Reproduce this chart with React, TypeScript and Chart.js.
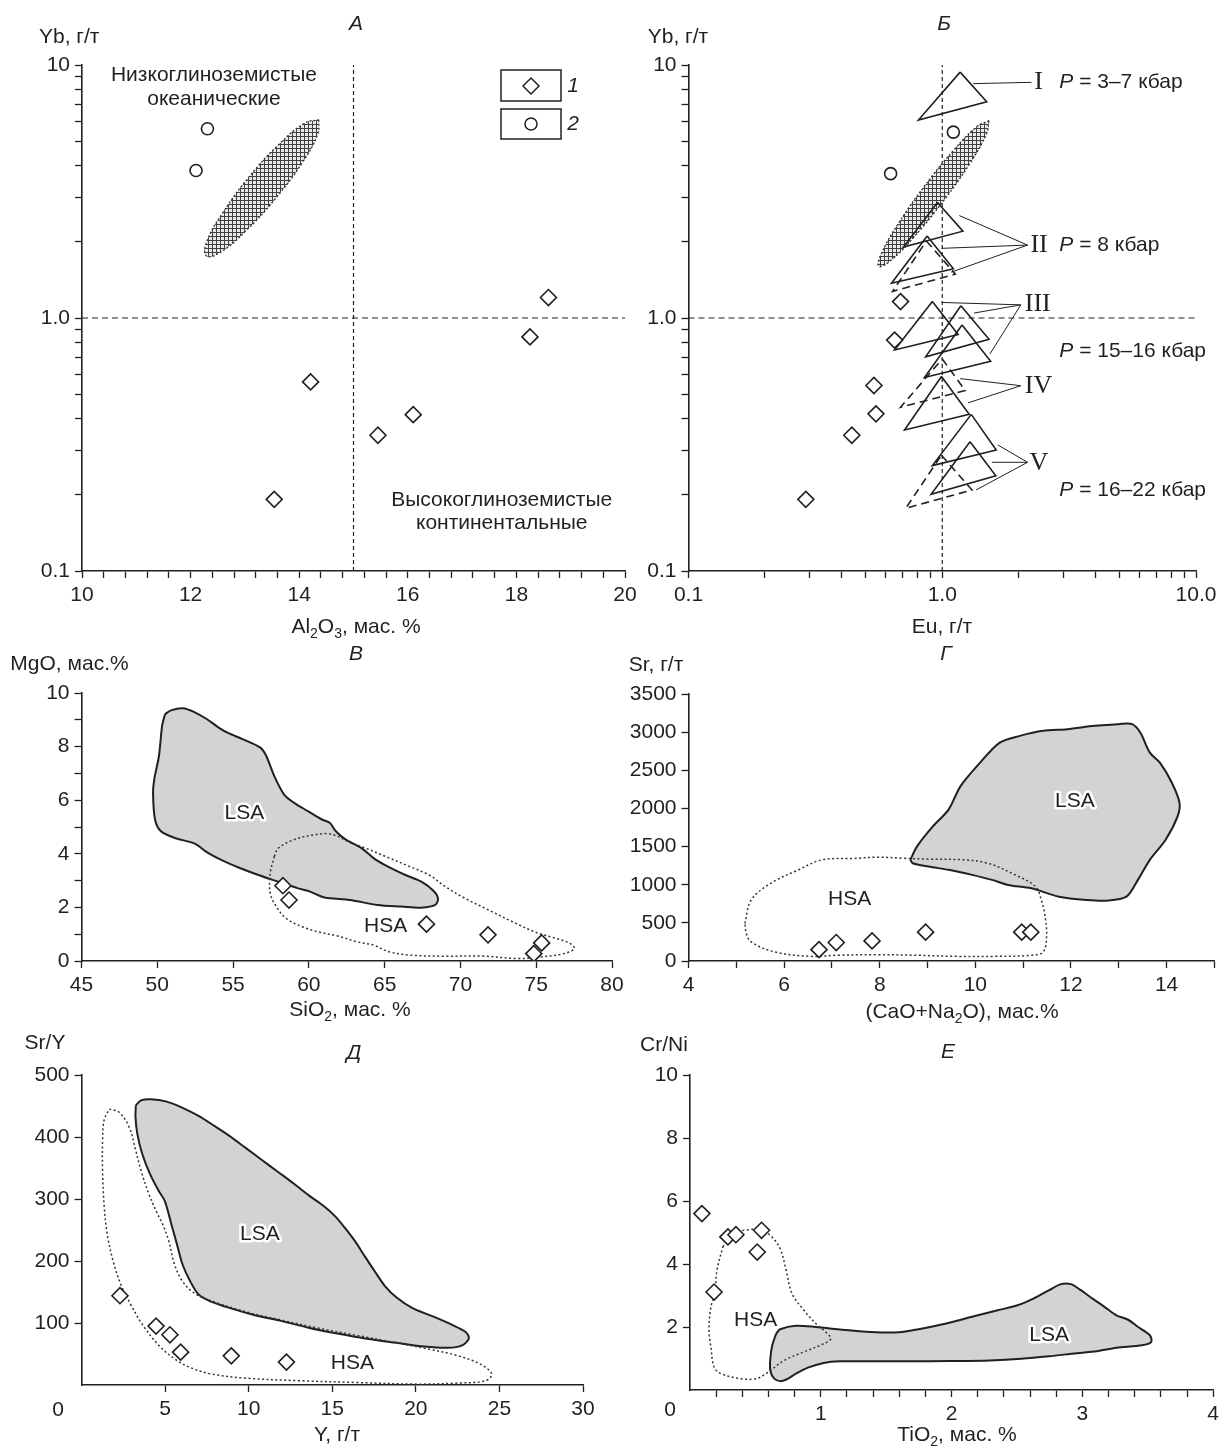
import React, { useEffect, useRef } from "react";
import { Chart, registerables } from "chart.js";

Chart.register(...registerables);

const PAGE_W = 1224;
const PAGE_H = 1449;
const SANS = '"Liberation Sans", Arial, Helvetica, sans-serif';
const SERIF = '"Liberation Serif", "Times New Roman", serif';
const INK = "#231f20";
const LSA_FILL = "#d1d3d4";
const Y_AXIS_W = 70;
const X_AXIS_H = 45;

type P = [number, number];

// ---------------- Panel А : Al2O3 vs Yb ----------------
const A_SAMPLES_1: P[] = [[13.54, 0.192], [14.21, 0.559], [15.45, 0.344], [16.1, 0.415], [18.25, 0.842], [18.59, 1.205]];
const A_SAMPLES_2: P[] = [[12.31, 5.6], [12.1, 3.83]];
const A_OCEANIC_FIELD: P[] = [[14.36, 6.08], [14.34, 5.32], [14.05, 4.09], [13.56, 2.96], [13.01, 2.2], [12.55, 1.82], [12.29, 1.76], [12.3, 2.01], [12.6, 2.62], [13.08, 3.62], [13.63, 4.86], [14.1, 5.89]];
const A_X_RANGE: P = [10, 20];
const A_AL_DIVIDE = 15;
const YB_DIVIDE = 1;
const LOG_RANGE: P = [0.1, 10];
const A_X_TICKS = [10, 10.4, 10.8, 11.2, 11.6, 12, 12.4, 12.8, 13.2, 13.6, 14, 14.4, 14.8, 15.2, 15.6, 16, 16.4, 16.8, 17.2, 17.6, 18, 18.4, 18.8, 19.2, 19.6, 20];
const A_X_LABELS = [10, 12, 14, 16, 18, 20];
const LOG_TICKS = [0.1, 0.2, 0.3, 0.4, 0.5, 0.6, 0.7, 0.8, 0.9, 1, 2, 3, 4, 5, 6, 7, 8, 9, 10];
const YB_LABELS: [number, string][] = [[0.1, "0.1"], [1, "1.0"], [10, "10"]];

// ---------------- Panel Б : Eu vs Yb ----------------
const B_SAMPLES_1: P[] = [[0.685, 1.161], [0.649, 0.818], [0.538, 0.541], [0.548, 0.418], [0.44, 0.344], [0.29, 0.192]];
const B_SAMPLES_2: P[] = [[1.106, 5.43], [0.626, 3.72]];
const B_OCEANIC_FIELD: P[] = [[1.529, 6.03], [1.492, 5.33], [1.282, 4.07], [1.01, 2.9], [0.777, 2.1], [0.628, 1.69], [0.562, 1.6], [0.576, 1.8], [0.671, 2.36], [0.851, 3.32], [1.106, 4.59], [1.37, 5.71]];
const EU_DIVIDE = 1;
const EU_LABELS: [number, string][] = [[0.1, "0.1"], [1, "1.0"], [10, "10.0"]];
const B_TRIANGLES_SOLID: P[][] = [
  [[1.176, 9.37], [1.497, 7.16], [0.806, 6.06]],
  [[0.958, 2.862], [1.206, 2.204], [0.703, 1.906]],
  [[0.872, 2.108], [1.106, 1.564], [0.631, 1.373]],
  [[0.914, 1.161], [1.155, 0.861], [0.649, 0.748]],
  [[1.184, 1.118], [1.529, 0.824], [0.86, 0.702]],
  [[1.197, 0.939], [1.551, 0.674], [0.851, 0.582]],
  [[0.993, 0.587], [1.277, 0.416], [0.71, 0.361]],
  [[1.301, 0.416], [1.632, 0.301], [0.914, 0.261]],
  [[1.287, 0.324], [1.626, 0.238], [0.904, 0.201]],
];
const B_TRIANGLES_DASHED: P[][] = [
  [[0.866, 2.016], [1.126, 1.49], [0.637, 1.274]],
  [[1.0, 0.689], [1.232, 0.517], [0.685, 0.444]],
  [[0.993, 0.287], [1.31, 0.209], [0.718, 0.177]],
];
const B_LEADERS: P[][] = [
  [[1.324, 8.44], [2.248, 8.54]],
  [[2.169, 1.942], [1.167, 2.541]],
  [[2.169, 1.942], [0.993, 1.885]],
  [[2.169, 1.942], [1.086, 1.518]],
  [[2.04, 1.127], [0.993, 1.152]],
  [[2.04, 1.127], [1.334, 1.046]],
  [[2.04, 1.127], [1.54, 0.72]],
  [[2.04, 0.54], [1.176, 0.576]],
  [[2.04, 0.54], [1.264, 0.462]],
  [[2.169, 0.269], [1.655, 0.315]],
  [[2.169, 0.269], [1.569, 0.269]],
  [[2.169, 0.269], [1.358, 0.209]],
];
const B_GROUPS = ["I", "II", "III", "IV", "V"];
const B_GROUP_POS: P[] = [[2.306, 8.54], [2.225, 1.942], [2.115, 1.139], [2.115, 0.54], [2.208, 0.266]];
const B_PRESSURES = [" = 3–7 кбар", " = 8 кбар", " = 15–16 кбар", " = 16–22 кбар"];
const B_PRESSURE_POS: P[] = [[2.893, 8.54], [2.893, 1.942], [2.893, 0.737], [2.893, 0.209]];

// ---------------- Panel В : SiO2 vs MgO ----------------
const C_SAMPLES: P[] = [[58.29, 2.81], [58.69, 2.275], [67.76, 1.375], [71.82, 0.975], [75.36, 0.675], [74.84, 0.275]];
const C_LSA: P[] = [[50.51, 9.21], [50.9, 9.35], [51.69, 9.43], [52.47, 9.28], [53.26, 9.03], [54.05, 8.71], [54.7, 8.5], [55.62, 8.28], [56.8, 7.96], [57.19, 7.65], [57.72, 6.9], [58.37, 6.21], [59.03, 5.9], [59.94, 5.59], [60.86, 5.28], [61.39, 5.15], [61.78, 4.84], [62.44, 4.53], [63.48, 4.21], [64.27, 3.84], [65.19, 3.53], [66.37, 3.21], [67.42, 2.96], [68.2, 2.63], [68.52, 2.34], [68.34, 2.09], [67.42, 1.99], [66.11, 2.03], [64.53, 2.09], [62.7, 2.28], [61.39, 2.34], [60.86, 2.4], [60.08, 2.59], [59.29, 2.71], [57.98, 2.96], [56.67, 3.21], [55.36, 3.49], [54.18, 3.78], [53.26, 4.06], [52.47, 4.38], [51.16, 4.59], [50.24, 4.84], [49.85, 5.28], [49.72, 6.28], [49.8, 6.78], [50.11, 7.65], [50.32, 8.78]];
const C_HSA: P[] = [[57.72, 3.9], [57.98, 4.21], [59.03, 4.53], [60.34, 4.71], [61.26, 4.75], [61.91, 4.65], [62.7, 4.43], [63.75, 4.21], [65.06, 3.9], [66.63, 3.53], [67.94, 3.21], [68.99, 2.78], [70.3, 2.34], [71.87, 1.9], [73.45, 1.46], [75.02, 1.06], [76.33, 0.84], [77.25, 0.65], [77.51, 0.46], [76.86, 0.28], [75.28, 0.15], [73.71, 0.09], [71.61, 0.18], [68.99, 0.18], [66.89, 0.21], [65.32, 0.34], [64.27, 0.59], [63.22, 0.71], [61.91, 0.93], [60.6, 1.09], [59.55, 1.28], [58.5, 1.59], [57.85, 2.03], [57.45, 2.53], [57.45, 3.28]];
const C_X_TICKS = [45, 50, 55, 60, 65, 70, 75, 80];
const C_Y_TICKS = [0, 1, 2, 3, 4, 5, 6, 7, 8, 9, 10];
const C_Y_LABELS = [0, 2, 4, 6, 8, 10];

// ---------------- Panel Г : CaO+Na2O vs Sr ----------------
const D_SAMPLES: P[] = [[6.73, 149], [7.09, 242], [7.84, 263], [8.96, 378], [10.97, 378], [11.16, 378]];
const D_LSA: P[] = [[8.64, 1326], [8.78, 1502], [9.11, 1765], [9.44, 1985], [9.69, 2292], [10.1, 2600], [10.51, 2863], [10.93, 2951], [11.42, 3017], [11.92, 3039], [12.5, 3083], [12.99, 3105], [13.28, 3105], [13.45, 2995], [13.65, 2732], [13.86, 2600], [14.11, 2336], [14.27, 2073], [14.23, 1897], [13.98, 1590], [13.65, 1326], [13.4, 1063], [13.16, 843], [12.74, 791], [12.33, 799], [11.75, 843], [11.17, 953], [10.68, 997], [10.35, 1063], [9.93, 1129], [9.44, 1195], [9.02, 1238], [8.69, 1282]];
const D_HSA: P[] = [[5.18, 492], [5.31, 799], [5.72, 1019], [6.3, 1195], [6.79, 1326], [7.45, 1344], [7.95, 1361], [8.45, 1348], [9.02, 1335], [9.77, 1326], [10.26, 1282], [10.76, 1151], [11.26, 975], [11.38, 799], [11.46, 580], [11.49, 316], [11.42, 119], [11.17, 75], [10.43, 61], [9.6, 61], [8.78, 75], [7.95, 83], [7.12, 75], [6.55, 61], [5.8, 119], [5.31, 250], [5.21, 360]];
const D_X_TICKS = [4, 5, 6, 7, 8, 9, 10, 11, 12, 13, 14, 15];
const D_X_LABELS = [4, 6, 8, 10, 12, 14];
const D_Y_TICKS = [0, 500, 1000, 1500, 2000, 2500, 3000, 3500];

// ---------------- Panel Д : Y vs Sr/Y ----------------
const E_SAMPLES: P[] = [[2.3, 144], [4.46, 95], [5.29, 81], [5.93, 53], [8.96, 47], [12.26, 37]];
const E_LSA: P[] = [[3.25, 451], [3.56, 459], [4.15, 461], [5.1, 457], [6.05, 447], [7.0, 434], [7.94, 418], [8.89, 401], [9.84, 382], [10.79, 363], [11.74, 344], [12.69, 325], [13.64, 305], [14.47, 289], [15.18, 272], [15.77, 253], [16.36, 232], [16.96, 207], [17.55, 183], [18.14, 160], [18.85, 141], [19.8, 124], [20.99, 111], [22.17, 97], [23.0, 85], [23.17, 75], [22.77, 64], [21.93, 60], [20.51, 62], [18.85, 68], [16.96, 75], [15.3, 83], [13.64, 92], [11.98, 103], [10.32, 113], [8.89, 124], [7.71, 135], [7.0, 146], [6.47, 169], [6.05, 194], [5.72, 226], [5.38, 259], [4.98, 297], [4.62, 313], [4.1, 340], [3.63, 373], [3.34, 405], [3.23, 432]];
const E_HSA: P[] = [[1.66, 445], [2.25, 440], [2.85, 416], [3.2, 383], [3.56, 346], [4.03, 308], [4.51, 278], [4.86, 259], [5.22, 232], [5.57, 194], [6.05, 167], [6.76, 148], [7.94, 134], [9.84, 118], [11.74, 106], [14.11, 92], [16.48, 80], [18.85, 68], [20.75, 58], [22.41, 48], [23.83, 34], [24.54, 18], [24.19, 7], [22.41, 3], [20.04, 1.4], [16.48, 4], [12.92, 7], [9.84, 11], [7.71, 18], [6.52, 28], [5.57, 42], [4.62, 64], [3.68, 96], [2.96, 129], [2.37, 161], [1.9, 199], [1.54, 243], [1.35, 291], [1.26, 346], [1.26, 394], [1.35, 427]];
const E_X_TICKS = [5, 10, 15, 20, 25, 30];
const E_Y_TICKS = [100, 200, 300, 400, 500];

// ---------------- Panel Е : TiO2 vs Cr/Ni ----------------
const F_SAMPLES: P[] = [[0.091, 5.6], [0.184, 3.11], [0.29, 4.86], [0.351, 4.93], [0.547, 5.07], [0.514, 4.38]];
const F_HSA: P[] = [[0.251, 4.54], [0.327, 4.97], [0.448, 5.09], [0.538, 5.09], [0.614, 4.91], [0.689, 4.49], [0.735, 3.8], [0.78, 3.06], [0.871, 2.53], [0.962, 2.11], [1.037, 1.84], [1.077, 1.63], [1.022, 1.47], [0.871, 1.21], [0.72, 0.94], [0.599, 0.57], [0.508, 0.36], [0.387, 0.36], [0.236, 0.52], [0.184, 0.73], [0.16, 1.36], [0.145, 1.89], [0.16, 2.64], [0.19, 3.06], [0.206, 3.8]];
const F_LSA: P[] = [[0.659, 1.79], [0.689, 1.93], [0.81, 2.04], [0.962, 2.0], [1.143, 1.92], [1.385, 1.84], [1.597, 1.83], [1.748, 1.93], [1.959, 2.11], [2.171, 2.34], [2.353, 2.53], [2.504, 2.69], [2.625, 2.9], [2.746, 3.17], [2.836, 3.36], [2.912, 3.36], [2.988, 3.17], [3.078, 2.9], [3.169, 2.64], [3.26, 2.37], [3.35, 2.23], [3.426, 2.0], [3.517, 1.73], [3.526, 1.52], [3.456, 1.42], [3.26, 1.34], [3.109, 1.23], [2.957, 1.17], [2.746, 1.07], [2.534, 0.99], [2.292, 0.94], [1.99, 0.92], [1.687, 0.91], [1.385, 0.91], [1.143, 0.91], [1.022, 0.86], [0.901, 0.71], [0.81, 0.52], [0.75, 0.36], [0.695, 0.28], [0.644, 0.36], [0.614, 0.62], [0.614, 0.99], [0.629, 1.42]];
const F_X_TICKS = [0.2, 0.4, 0.6, 0.8, 1, 1.2, 1.4, 1.6, 1.8, 2, 2.2, 2.4, 2.6, 2.8, 3, 3.2, 3.4, 3.6, 3.8, 4];
const F_X_LABELS = [1, 2, 3, 4];
const F_Y_TICKS = [2, 4, 6, 8, 10];

// ---------------- helpers ----------------
type Seg = { t: string; sub?: boolean; italic?: boolean };
type Item = { segs: Seg[]; x?: number; y?: number; dx?: number; dy?: number; size?: number; family?: string; italic?: boolean; align?: string; halo?: boolean };
type Shape = { kind: string; x: number; y: number; w?: number; h?: number; r?: number };

const T = (t: string): Seg[] => [{ t }];
const xy = (a: P[]) => a.map(([x, y]) => ({ x, y }));
const ring = (a: P[]) => xy([...a, a[0]]);

const pick = (pairs: [number, string][]) => (v: number) => {
  const f = pairs.find(([t]) => Math.abs(t - v) < 1e-6);
  return f ? f[1] : "";
};
const nums = (vals: number[]) => pick(vals.map((v) => [v, String(v)] as [number, string]));

function drawSegs(ctx: CanvasRenderingContext2D, it: Item, x: number, y: number) {
  const size = it.size || 21;
  const family = it.family || SANS;
  const fontOf = (s: Seg) => `${s.italic || it.italic ? "italic " : ""}${s.sub ? Math.round(size * 0.68) : size}px ${family}`;
  let total = 0;
  const widths = it.segs.map((s) => {
    ctx.font = fontOf(s);
    const w = ctx.measureText(s.t).width;
    total += w;
    return w;
  });
  const align = it.align || "center";
  let cx = align === "center" ? x - total / 2 : align === "right" ? x - total : x;
  ctx.textAlign = "left";
  ctx.textBaseline = "middle";
  it.segs.forEach((s, i) => {
    ctx.font = fontOf(s);
    const yy = s.sub ? y + size * 0.32 : y;
    if (it.halo) {
      ctx.strokeStyle = "#ffffff";
      ctx.lineWidth = 5;
      ctx.lineJoin = "round";
      ctx.strokeText(s.t, cx, yy);
    }
    ctx.fillStyle = INK;
    ctx.fillText(s.t, cx, yy);
    cx += widths[i];
  });
}

function drawShape(ctx: CanvasRenderingContext2D, s: Shape) {
  ctx.strokeStyle = INK;
  ctx.lineWidth = 1.5;
  ctx.fillStyle = "#fff";
  ctx.beginPath();
  if (s.kind === "rect") {
    ctx.rect(s.x, s.y, s.w || 0, s.h || 0);
    ctx.stroke();
  } else if (s.kind === "diamond") {
    const r = s.r || 8;
    ctx.moveTo(s.x - r, s.y);
    ctx.lineTo(s.x, s.y - r);
    ctx.lineTo(s.x + r, s.y);
    ctx.lineTo(s.x, s.y + r);
    ctx.closePath();
    ctx.fill();
    ctx.stroke();
  } else if (s.kind === "circle") {
    ctx.arc(s.x, s.y, s.r || 6, 0, Math.PI * 2);
    ctx.fill();
    ctx.stroke();
  }
}

function textPlugin(items: Item[], shapes: Shape[] = []) {
  return {
    id: "panelText",
    afterDraw(chart: any) {
      const ctx: CanvasRenderingContext2D = chart.ctx;
      ctx.save();
      shapes.forEach((s) => drawShape(ctx, s));
      items.forEach((it) => {
        let x = it.x as number;
        let y = it.y as number;
        if (it.dx !== undefined && it.dy !== undefined) {
          x = chart.scales.x.getPixelForValue(it.dx);
          y = chart.scales.y.getPixelForValue(it.dy);
        }
        drawSegs(ctx, it, x, y);
      });
      ctx.restore();
    },
  };
}

function axis(kind: "x" | "y", type: string, range: P, ticks: number[], label: (v: number) => string) {
  return {
    type,
    min: range[0],
    max: range[1],
    position: kind === "x" ? "bottom" : "left",
    afterFit: (s: any) => {
      if (kind === "x") s.height = X_AXIS_H;
      else s.width = Y_AXIS_W;
    },
    afterBuildTicks: (s: any) => {
      s.ticks = ticks.map((v) => ({ value: v }));
    },
    grid: { display: true, drawOnChartArea: false, drawTicks: true, tickLength: 7, tickWidth: 1.3, tickColor: INK, color: INK },
    border: { display: true, color: INK, width: 1.6 },
    ticks: {
      autoSkip: false,
      maxRotation: 0,
      minRotation: 0,
      padding: 5,
      color: INK,
      font: { family: SANS, size: 21 },
      callback: (v: any) => label(Number(v)),
    },
  };
}

const markers = (a: P[], style: string, r: number) => ({
  type: "scatter",
  data: xy(a),
  showLine: false,
  pointStyle: style,
  pointRadius: r,
  pointHoverRadius: r,
  pointBackgroundColor: "#ffffff",
  pointBorderColor: INK,
  pointBorderWidth: 1.6,
});

const outline = (a: P[], o: { width: number; dash?: number[]; fill?: any; tension?: number; color?: string }) => ({
  type: "scatter",
  data: ring(a),
  showLine: true,
  pointRadius: 0,
  pointHoverRadius: 0,
  borderColor: o.color || INK,
  borderWidth: o.width,
  borderDash: o.dash || [],
  fill: o.fill ? "shape" : false,
  backgroundColor: o.fill || "transparent",
  tension: o.tension === undefined ? 0.3 : o.tension,
});

const segment = (a: P[], width: number, dash: number[] = [], color = INK) => ({
  type: "scatter",
  data: xy(a),
  showLine: true,
  pointRadius: 0,
  pointHoverRadius: 0,
  borderColor: color,
  borderWidth: width,
  borderDash: dash,
  fill: false,
  tension: 0,
});

function config(area: { l: number; r: number; t: number; b: number }, datasets: any[], scales: any, items: Item[], shapes: Shape[] = []) {
  return {
    type: "scatter",
    data: { datasets },
    options: {
      responsive: false,
      animation: false,
      devicePixelRatio: 1,
      events: [],
      layout: {
        padding: {
          left: area.l - Y_AXIS_W,
          right: PAGE_W - area.r,
          top: area.t,
          bottom: PAGE_H - area.b - X_AXIS_H,
        },
      },
      plugins: { legend: { display: false }, tooltip: { enabled: false }, title: { display: false } },
      scales,
    },
    plugins: [textPlugin(items, shapes)],
  } as any;
}

function makeHatch() {
  const c = document.createElement("canvas");
  c.width = 4;
  c.height = 4;
  const g = c.getContext("2d")!;
  g.fillStyle = "#e9e9e9";
  g.fillRect(0, 0, 4, 4);
  g.fillStyle = "#404040";
  g.fillRect(0, 0, 4, 1);
  g.fillRect(0, 0, 1, 4);
  return g.createPattern(c, "repeat");
}

const HSA_STYLE = { width: 1.5, dash: [2, 2.5], color: "#333333", tension: 0.35 };

function panelA(hatch: any) {
  const datasets = [
    markers(A_SAMPLES_1, "rectRot", 8),
    markers(A_SAMPLES_2, "circle", 6),
    outline(A_OCEANIC_FIELD, { width: 1.3, dash: [2, 2], fill: hatch, tension: 0.45, color: "#333" }),
    segment([[A_X_RANGE[0], YB_DIVIDE], [A_X_RANGE[1], YB_DIVIDE]], 1.2, [6, 4]),
    segment([[A_AL_DIVIDE, LOG_RANGE[0]], [A_AL_DIVIDE, LOG_RANGE[1]]], 1.2, [4, 3]),
  ];
  const scales = {
    x: axis("x", "linear", A_X_RANGE, A_X_TICKS, nums(A_X_LABELS)),
    y: axis("y", "logarithmic", LOG_RANGE, LOG_TICKS, pick(YB_LABELS)),
  };
  const items: Item[] = [
    { segs: T("Yb, г/т"), x: 39, y: 37, align: "left" },
    { segs: T("А"), x: 356, y: 24, italic: true },
    { segs: [{ t: "Al" }, { t: "2", sub: true }, { t: "O" }, { t: "3", sub: true }, { t: ", мас. %" }], x: 356, y: 627 },
    { segs: T("Низкоглиноземистые"), dx: 12.43, dy: 9.09 },
    { segs: T("океанические"), dx: 12.43, dy: 7.35 },
    { segs: T("Высокоглиноземистые"), dx: 17.73, dy: 0.19 },
    { segs: T("континентальные"), dx: 17.73, dy: 0.154 },
    { segs: T("1"), x: 573, y: 86, italic: true },
    { segs: T("2"), x: 573, y: 124, italic: true },
  ];
  const shapes: Shape[] = [
    { kind: "rect", x: 501, y: 70, w: 60, h: 31 },
    { kind: "rect", x: 501, y: 109, w: 60, h: 30 },
    { kind: "diamond", x: 531, y: 86, r: 8 },
    { kind: "circle", x: 531, y: 124, r: 6 },
  ];
  return config({ l: 82, r: 625, t: 65, b: 571 }, datasets, scales, items, shapes);
}

function panelB(hatch: any) {
  const datasets: any[] = [
    markers(B_SAMPLES_1, "rectRot", 8),
    markers(B_SAMPLES_2, "circle", 6),
    ...B_TRIANGLES_SOLID.map((t) => outline(t, { width: 1.6, tension: 0 })),
    ...B_TRIANGLES_DASHED.map((t) => outline(t, { width: 1.6, dash: [8, 5], tension: 0 })),
    ...B_LEADERS.map((l) => segment(l, 1)),
    outline(B_OCEANIC_FIELD, { width: 1.3, dash: [2, 2], fill: hatch, tension: 0.45, color: "#333" }),
    segment([[LOG_RANGE[0], YB_DIVIDE], [LOG_RANGE[1], YB_DIVIDE]], 1.2, [6, 4]),
    segment([[EU_DIVIDE, LOG_RANGE[0]], [EU_DIVIDE, LOG_RANGE[1]]], 1.2, [4, 3]),
  ];
  const scales = {
    x: axis("x", "logarithmic", LOG_RANGE, LOG_TICKS, pick(EU_LABELS)),
    y: axis("y", "logarithmic", LOG_RANGE, LOG_TICKS, pick(YB_LABELS)),
  };
  const items: Item[] = [
    { segs: T("Yb, г/т"), x: 678, y: 37 },
    { segs: T("Б"), x: 944, y: 24, italic: true },
    { segs: T("Eu, г/т"), x: 942, y: 627 },
    ...B_GROUPS.map((g, i) => ({ segs: T(g), dx: B_GROUP_POS[i][0], dy: B_GROUP_POS[i][1], family: SERIF, size: 26, align: "left" })),
    ...B_PRESSURES.map((p, i) => ({ segs: [{ t: "P", italic: true }, { t: p }], dx: B_PRESSURE_POS[i][0], dy: B_PRESSURE_POS[i][1], align: "left" })),
  ];
  return config({ l: 688.5, r: 1196, t: 65, b: 571 }, datasets, scales, items);
}

function panelC() {
  const datasets = [
    markers(C_SAMPLES, "rectRot", 8),
    outline(C_HSA, HSA_STYLE),
    outline(C_LSA, { width: 2, fill: LSA_FILL, tension: 0.3 }),
  ];
  const scales = {
    x: axis("x", "linear", [45, 80], C_X_TICKS, nums(C_X_TICKS)),
    y: axis("y", "linear", [0, 10], C_Y_TICKS, nums(C_Y_LABELS)),
  };
  const items: Item[] = [
    { segs: T("MgO, мас.%"), x: 69.5, y: 664 },
    { segs: T("В"), x: 356, y: 654, italic: true },
    { segs: [{ t: "SiO" }, { t: "2", sub: true }, { t: ", мас. %" }], x: 350, y: 1010 },
    { segs: T("LSA"), dx: 55.75, dy: 5.53, halo: true },
    { segs: T("HSA"), dx: 65.06, dy: 1.28 },
  ];
  return config({ l: 81.5, r: 612, t: 693, b: 961 }, datasets, scales, items);
}

function panelD() {
  const datasets = [
    markers(D_SAMPLES, "rectRot", 8),
    outline(D_HSA, HSA_STYLE),
    outline(D_LSA, { width: 2, fill: LSA_FILL, tension: 0.3 }),
  ];
  const scales = {
    x: axis("x", "linear", [4, 15], D_X_TICKS, nums(D_X_LABELS)),
    y: axis("y", "linear", [0, 3500], D_Y_TICKS, nums(D_Y_TICKS)),
  };
  const items: Item[] = [
    { segs: T("Sr, г/т"), x: 656, y: 665 },
    { segs: T("Г"), x: 946, y: 654, italic: true },
    { segs: [{ t: "(CaO+Na" }, { t: "2", sub: true }, { t: "O), мас.%" }], x: 962, y: 1012 },
    { segs: T("LSA"), dx: 12.08, dy: 2095, halo: true },
    { segs: T("HSA"), dx: 7.37, dy: 808 },
  ];
  return config({ l: 688.5, r: 1217, t: 694, b: 961 }, datasets, scales, items);
}

function panelE() {
  const datasets = [
    markers(E_SAMPLES, "rectRot", 8),
    outline(E_HSA, HSA_STYLE),
    outline(E_LSA, { width: 2, fill: LSA_FILL, tension: 0.3 }),
  ];
  const scales = {
    x: axis("x", "linear", [0, 30], E_X_TICKS, nums(E_X_TICKS)),
    y: axis("y", "linear", [0, 500], E_Y_TICKS, nums(E_Y_TICKS)),
  };
  const items: Item[] = [
    { segs: T("Sr/Y"), x: 45, y: 1043 },
    { segs: T("Д"), x: 354, y: 1053, italic: true },
    { segs: T("Y, г/т"), x: 337, y: 1435 },
    { segs: T("0"), x: 58, y: 1410 },
    { segs: T("LSA"), dx: 10.67, dy: 243, halo: true },
    { segs: T("HSA"), dx: 16.2, dy: 35.5 },
  ];
  return config({ l: 81.5, r: 583, t: 1075, b: 1385 }, datasets, scales, items);
}

function panelF() {
  const datasets = [
    markers(F_SAMPLES, "rectRot", 8),
    outline(F_HSA, HSA_STYLE),
    outline(F_LSA, { width: 2, fill: LSA_FILL, tension: 0.3 }),
  ];
  const scales = {
    x: axis("x", "linear", [0, 4], F_X_TICKS, nums(F_X_LABELS)),
    y: axis("y", "linear", [0, 10], F_Y_TICKS, nums(F_Y_TICKS)),
  };
  const items: Item[] = [
    { segs: T("Cr/Ni"), x: 664, y: 1045 },
    { segs: T("Е"), x: 948, y: 1052, italic: true },
    { segs: [{ t: "TiO" }, { t: "2", sub: true }, { t: ", мас. %" }], x: 957, y: 1435 },
    { segs: T("0"), x: 670, y: 1410 },
    { segs: T("HSA"), dx: 0.502, dy: 2.23 },
    { segs: T("LSA"), dx: 2.746, dy: 1.74, halo: true },
  ];
  return config({ l: 690, r: 1218, t: 1075, b: 1390 }, datasets, scales, items);
}

export default function App() {
  const refs = useRef<(HTMLCanvasElement | null)[]>([]);
  useEffect(() => {
    const hatch = makeHatch();
    const configs = [panelA(hatch), panelB(hatch), panelC(), panelD(), panelE(), panelF()];
    const charts = configs.map((cfg, i) => new Chart(refs.current[i] as HTMLCanvasElement, cfg));
    return () => charts.forEach((c) => c.destroy());
  }, []);
  return (
    <div style={{ position: "absolute", left: 0, top: 0, width: PAGE_W, height: PAGE_H, background: "#ffffff", overflow: "hidden" }}>
      {[0, 1, 2, 3, 4, 5].map((i) => (
        <canvas
          key={i}
          ref={(el) => {
            refs.current[i] = el;
          }}
          width={PAGE_W}
          height={PAGE_H}
          style={{ position: "absolute", left: 0, top: 0, width: PAGE_W, height: PAGE_H }}
        />
      ))}
    </div>
  );
}
